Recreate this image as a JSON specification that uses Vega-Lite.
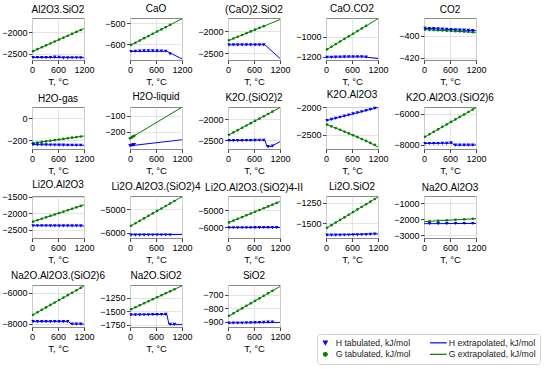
{
"$schema":"https://vega.github.io/schema/vega-lite/v6.json",
"padding":{"left":1,"top":3,"right":0,"bottom":0},
"config":{"view":{"continuousWidth":52,"continuousHeight":42,"stroke":"#8a8a8a","strokeWidth":1},
"font":"Liberation Sans",
"title":{"font":"Liberation Sans","fontSize":10,"fontWeight":"normal","color":"#000","offset":3},
"axis":{"labelFont":"Liberation Sans","labelFontSize":9,"labelColor":"#000","tickColor":"#444","tickSize":3.5,"domain":false,"gridColor":"#dddddd","gridWidth":0.8,"titleFont":"Liberation Sans","titleFontSize":9.5,"titleFontWeight":"normal","titleColor":"#000","labelPadding":1.5,"titlePadding":2,"labelOverlap":false,"labelFlush":false}},
"data":{"values":[
{"p":1,"s":"Gt","T":25,"v":-2444},{"p":1,"s":"Gt","T":125,"v":-2399},{"p":1,"s":"Gt","T":225,"v":-2355},{"p":1,"s":"Gt","T":325,"v":-2310},{"p":1,"s":"Gt","T":425,"v":-2266},{"p":1,"s":"Gt","T":525,"v":-2221},{"p":1,"s":"Gt","T":625,"v":-2176},{"p":1,"s":"Gt","T":725,"v":-2132},{"p":1,"s":"Gt","T":825,"v":-2087},{"p":1,"s":"Gt","T":925,"v":-2043},{"p":1,"s":"Gt","T":1025,"v":-1998},{"p":1,"s":"Gt","T":1125,"v":-1954},
{"p":1,"s":"Ht","T":25,"v":-2592},{"p":1,"s":"Ht","T":125,"v":-2593},{"p":1,"s":"Ht","T":225,"v":-2594},{"p":1,"s":"Ht","T":325,"v":-2594},{"p":1,"s":"Ht","T":425,"v":-2593},{"p":1,"s":"Ht","T":525,"v":-2584},{"p":1,"s":"Ht","T":625,"v":-2585},{"p":1,"s":"Ht","T":725,"v":-2600},{"p":1,"s":"Ht","T":825,"v":-2600},{"p":1,"s":"Ht","T":925,"v":-2598},{"p":1,"s":"Ht","T":1025,"v":-2597},{"p":1,"s":"Ht","T":1125,"v":-2597},
{"p":1,"s":"Ge","T":0,"v":-2455},{"p":1,"s":"Ge","T":1200,"v":-1920},{"p":1,"s":"He","T":0,"v":-2592},{"p":1,"s":"He","T":1200,"v":-2597},
{"p":2,"s":"Gt","T":25,"v":-603},{"p":2,"s":"Gt","T":125,"v":-593},{"p":2,"s":"Gt","T":225,"v":-582},{"p":2,"s":"Gt","T":325,"v":-571},{"p":2,"s":"Gt","T":425,"v":-561},{"p":2,"s":"Gt","T":525,"v":-550},{"p":2,"s":"Gt","T":625,"v":-539},{"p":2,"s":"Gt","T":725,"v":-529},{"p":2,"s":"Gt","T":825,"v":-518},{"p":2,"s":"Gt","T":925,"v":-507},
{"p":2,"s":"Ht","T":25,"v":-635},{"p":2,"s":"Ht","T":125,"v":-634},{"p":2,"s":"Ht","T":225,"v":-633},{"p":2,"s":"Ht","T":325,"v":-632},{"p":2,"s":"Ht","T":425,"v":-632},{"p":2,"s":"Ht","T":525,"v":-632},{"p":2,"s":"Ht","T":625,"v":-632},{"p":2,"s":"Ht","T":725,"v":-633},{"p":2,"s":"Ht","T":825,"v":-634},{"p":2,"s":"Ht","T":925,"v":-647},
{"p":2,"s":"Ge","T":0,"v":-606},{"p":2,"s":"Ge","T":1200,"v":-478},{"p":2,"s":"He","T":0,"v":-635},{"p":2,"s":"He","T":850,"v":-634},{"p":2,"s":"He","T":1200,"v":-671},
{"p":3,"s":"Gt","T":25,"v":-2205},{"p":3,"s":"Gt","T":125,"v":-2166},{"p":3,"s":"Gt","T":225,"v":-2127},{"p":3,"s":"Gt","T":325,"v":-2088},{"p":3,"s":"Gt","T":425,"v":-2049},{"p":3,"s":"Gt","T":525,"v":-2009},{"p":3,"s":"Gt","T":625,"v":-1970},{"p":3,"s":"Gt","T":725,"v":-1931},{"p":3,"s":"Gt","T":825,"v":-1892},
{"p":3,"s":"Ht","T":25,"v":-2308},{"p":3,"s":"Ht","T":125,"v":-2308},{"p":3,"s":"Ht","T":225,"v":-2307},{"p":3,"s":"Ht","T":325,"v":-2308},{"p":3,"s":"Ht","T":425,"v":-2308},{"p":3,"s":"Ht","T":525,"v":-2307},{"p":3,"s":"Ht","T":625,"v":-2307},{"p":3,"s":"Ht","T":725,"v":-2308},{"p":3,"s":"Ht","T":825,"v":-2307},
{"p":3,"s":"Ge","T":0,"v":-2215},{"p":3,"s":"Ge","T":1200,"v":-1745},{"p":3,"s":"He","T":0,"v":-2308},{"p":3,"s":"He","T":850,"v":-2306},{"p":3,"s":"He","T":1200,"v":-2610},
{"p":4,"s":"Gt","T":25,"v":-1128},{"p":4,"s":"Gt","T":125,"v":-1102},{"p":4,"s":"Gt","T":225,"v":-1076},{"p":4,"s":"Gt","T":325,"v":-1050},{"p":4,"s":"Gt","T":425,"v":-1024},{"p":4,"s":"Gt","T":525,"v":-998},{"p":4,"s":"Gt","T":625,"v":-972},{"p":4,"s":"Gt","T":725,"v":-946},{"p":4,"s":"Gt","T":825,"v":-920},{"p":4,"s":"Gt","T":925,"v":-894},
{"p":4,"s":"Ht","T":25,"v":-1207},{"p":4,"s":"Ht","T":125,"v":-1207},{"p":4,"s":"Ht","T":225,"v":-1206},{"p":4,"s":"Ht","T":325,"v":-1205},{"p":4,"s":"Ht","T":425,"v":-1204},{"p":4,"s":"Ht","T":525,"v":-1203},{"p":4,"s":"Ht","T":625,"v":-1203},{"p":4,"s":"Ht","T":725,"v":-1203},{"p":4,"s":"Ht","T":825,"v":-1204},{"p":4,"s":"Ht","T":925,"v":-1206},
{"p":4,"s":"Ge","T":0,"v":-1135},{"p":4,"s":"Ge","T":1200,"v":-822},{"p":4,"s":"He","T":0,"v":-1207},{"p":4,"s":"He","T":850,"v":-1203},{"p":4,"s":"He","T":1200,"v":-1220},
{"p":5,"s":"Gt","T":25,"v":-394.5},{"p":5,"s":"Gt","T":125,"v":-394.7},{"p":5,"s":"Gt","T":225,"v":-394.9},{"p":5,"s":"Gt","T":325,"v":-395.1},{"p":5,"s":"Gt","T":425,"v":-395.3},{"p":5,"s":"Gt","T":525,"v":-395.5},{"p":5,"s":"Gt","T":625,"v":-395.7},{"p":5,"s":"Gt","T":725,"v":-395.9},{"p":5,"s":"Gt","T":825,"v":-396.1},{"p":5,"s":"Gt","T":925,"v":-396.3},{"p":5,"s":"Gt","T":1025,"v":-396.5},{"p":5,"s":"Gt","T":1125,"v":-396.8},
{"p":5,"s":"Ht","T":25,"v":-393.4},{"p":5,"s":"Ht","T":125,"v":-393.5},{"p":5,"s":"Ht","T":225,"v":-393.6},{"p":5,"s":"Ht","T":325,"v":-393.8},{"p":5,"s":"Ht","T":425,"v":-394.0},{"p":5,"s":"Ht","T":525,"v":-394.2},{"p":5,"s":"Ht","T":625,"v":-394.4},{"p":5,"s":"Ht","T":725,"v":-394.6},{"p":5,"s":"Ht","T":825,"v":-394.8},{"p":5,"s":"Ht","T":925,"v":-395.0},{"p":5,"s":"Ht","T":1025,"v":-395.2},{"p":5,"s":"Ht","T":1125,"v":-395.4},
{"p":5,"s":"Ge","T":0,"v":-394.4},{"p":5,"s":"Ge","T":1200,"v":-397},{"p":5,"s":"He","T":0,"v":-393.3},{"p":5,"s":"He","T":1200,"v":-395.5},
{"p":6,"s":"Gt","T":25,"v":-228.3},{"p":6,"s":"Gt","T":125,"v":-222.7},{"p":6,"s":"Gt","T":225,"v":-217.2},{"p":6,"s":"Gt","T":325,"v":-211.6},{"p":6,"s":"Gt","T":425,"v":-206.1},{"p":6,"s":"Gt","T":525,"v":-200.5},{"p":6,"s":"Gt","T":625,"v":-195.0},{"p":6,"s":"Gt","T":725,"v":-189.4},{"p":6,"s":"Gt","T":825,"v":-183.8},{"p":6,"s":"Gt","T":925,"v":-178.3},{"p":6,"s":"Gt","T":1025,"v":-172.7},{"p":6,"s":"Gt","T":1125,"v":-167.2},
{"p":6,"s":"Ht","T":25,"v":-241.8},{"p":6,"s":"Ht","T":125,"v":-242.6},{"p":6,"s":"Ht","T":225,"v":-243.4},{"p":6,"s":"Ht","T":325,"v":-244.2},{"p":6,"s":"Ht","T":425,"v":-244.9},{"p":6,"s":"Ht","T":525,"v":-245.6},{"p":6,"s":"Ht","T":625,"v":-246.2},{"p":6,"s":"Ht","T":725,"v":-246.7},{"p":6,"s":"Ht","T":825,"v":-247.1},{"p":6,"s":"Ht","T":925,"v":-247.5},{"p":6,"s":"Ht","T":1025,"v":-247.8},{"p":6,"s":"Ht","T":1125,"v":-248.0},
{"p":6,"s":"Ge","T":0,"v":-229.7},{"p":6,"s":"Ge","T":1200,"v":-163},{"p":6,"s":"He","T":0,"v":-241.5},{"p":6,"s":"He","T":1200,"v":-248.2},
{"p":7,"s":"Gt","T":0,"v":-241},{"p":7,"s":"Gt","T":25,"v":-237},{"p":7,"s":"Gt","T":50,"v":-233},{"p":7,"s":"Gt","T":75,"v":-229},{"p":7,"s":"Gt","T":100,"v":-225},
{"p":7,"s":"Ht","T":0,"v":-287.7},{"p":7,"s":"Ht","T":25,"v":-285.8},{"p":7,"s":"Ht","T":50,"v":-283.9},{"p":7,"s":"Ht","T":75,"v":-282.0},{"p":7,"s":"Ht","T":100,"v":-280.1},
{"p":7,"s":"Ge","T":0,"v":-241},{"p":7,"s":"Ge","T":1200,"v":-45},{"p":7,"s":"He","T":0,"v":-287.7},{"p":7,"s":"He","T":1200,"v":-250},
{"p":8,"s":"Gt","T":25,"v":-2366},{"p":8,"s":"Gt","T":125,"v":-2311},{"p":8,"s":"Gt","T":225,"v":-2257},{"p":8,"s":"Gt","T":325,"v":-2202},{"p":8,"s":"Gt","T":425,"v":-2147},{"p":8,"s":"Gt","T":525,"v":-2092},{"p":8,"s":"Gt","T":625,"v":-2037},{"p":8,"s":"Gt","T":725,"v":-1983},{"p":8,"s":"Gt","T":825,"v":-1928},{"p":8,"s":"Gt","T":925,"v":-1873},{"p":8,"s":"Gt","T":1025,"v":-1818},
{"p":8,"s":"Ht","T":25,"v":-2505},{"p":8,"s":"Ht","T":125,"v":-2505},{"p":8,"s":"Ht","T":225,"v":-2506},{"p":8,"s":"Ht","T":325,"v":-2505},{"p":8,"s":"Ht","T":425,"v":-2504},{"p":8,"s":"Ht","T":525,"v":-2502},{"p":8,"s":"Ht","T":625,"v":-2500},{"p":8,"s":"Ht","T":725,"v":-2498},{"p":8,"s":"Ht","T":825,"v":-2496},{"p":8,"s":"Ht","T":925,"v":-2648},{"p":8,"s":"Ht","T":1025,"v":-2638},
{"p":8,"s":"Ge","T":0,"v":-2380},{"p":8,"s":"Ge","T":1200,"v":-1722},{"p":8,"s":"He","T":0,"v":-2505},{"p":8,"s":"He","T":850,"v":-2494},{"p":8,"s":"He","T":900,"v":-2650},{"p":8,"s":"He","T":1000,"v":-2645},{"p":8,"s":"He","T":1200,"v":-2530},
{"p":9,"s":"Gt","T":25,"v":-2314},{"p":9,"s":"Gt","T":125,"v":-2345},{"p":9,"s":"Gt","T":225,"v":-2377},{"p":9,"s":"Gt","T":325,"v":-2408},{"p":9,"s":"Gt","T":425,"v":-2441},{"p":9,"s":"Gt","T":525,"v":-2474},{"p":9,"s":"Gt","T":625,"v":-2506},{"p":9,"s":"Gt","T":725,"v":-2540},{"p":9,"s":"Gt","T":825,"v":-2575},{"p":9,"s":"Gt","T":925,"v":-2610},{"p":9,"s":"Gt","T":1025,"v":-2646},{"p":9,"s":"Gt","T":1125,"v":-2682},
{"p":9,"s":"Ht","T":25,"v":-2240},{"p":9,"s":"Ht","T":125,"v":-2220},{"p":9,"s":"Ht","T":225,"v":-2200},{"p":9,"s":"Ht","T":325,"v":-2180},{"p":9,"s":"Ht","T":425,"v":-2160},{"p":9,"s":"Ht","T":525,"v":-2140},{"p":9,"s":"Ht","T":625,"v":-2120},{"p":9,"s":"Ht","T":725,"v":-2100},{"p":9,"s":"Ht","T":825,"v":-2080},{"p":9,"s":"Ht","T":925,"v":-2060},{"p":9,"s":"Ht","T":1025,"v":-2040},{"p":9,"s":"Ht","T":1125,"v":-2020},
{"p":9,"s":"Ge","T":0,"v":-2306},{"p":9,"s":"Ge","T":300,"v":-2400},{"p":9,"s":"Ge","T":600,"v":-2498},{"p":9,"s":"Ge","T":900,"v":-2601},{"p":9,"s":"Ge","T":1200,"v":-2718},{"p":9,"s":"He","T":0,"v":-2245},{"p":9,"s":"He","T":1200,"v":-2005},
{"p":10,"s":"Gt","T":25,"v":-7490},{"p":10,"s":"Gt","T":125,"v":-7330},{"p":10,"s":"Gt","T":225,"v":-7171},{"p":10,"s":"Gt","T":325,"v":-7011},{"p":10,"s":"Gt","T":425,"v":-6852},{"p":10,"s":"Gt","T":525,"v":-6692},{"p":10,"s":"Gt","T":625,"v":-6533},{"p":10,"s":"Gt","T":725,"v":-6373},{"p":10,"s":"Gt","T":825,"v":-6213},{"p":10,"s":"Gt","T":925,"v":-6054},{"p":10,"s":"Gt","T":1025,"v":-5894},{"p":10,"s":"Gt","T":1125,"v":-5735},
{"p":10,"s":"Ht","T":25,"v":-7925},{"p":10,"s":"Ht","T":125,"v":-7924},{"p":10,"s":"Ht","T":225,"v":-7922},{"p":10,"s":"Ht","T":325,"v":-7920},{"p":10,"s":"Ht","T":425,"v":-7918},{"p":10,"s":"Ht","T":525,"v":-7915},{"p":10,"s":"Ht","T":625,"v":-7880},{"p":10,"s":"Ht","T":725,"v":-8030},{"p":10,"s":"Ht","T":825,"v":-8030},{"p":10,"s":"Ht","T":925,"v":-8028},{"p":10,"s":"Ht","T":1025,"v":-8026},{"p":10,"s":"Ht","T":1125,"v":-8024},
{"p":10,"s":"Ge","T":0,"v":-7530},{"p":10,"s":"Ge","T":1200,"v":-5615},{"p":10,"s":"He","T":0,"v":-7925},{"p":10,"s":"He","T":650,"v":-7900},{"p":10,"s":"He","T":700,"v":-8030},{"p":10,"s":"He","T":1200,"v":-8022},
{"p":11,"s":"Gt","T":25,"v":-2251},{"p":11,"s":"Gt","T":125,"v":-2208},{"p":11,"s":"Gt","T":225,"v":-2164},{"p":11,"s":"Gt","T":325,"v":-2121},{"p":11,"s":"Gt","T":425,"v":-2077},{"p":11,"s":"Gt","T":525,"v":-2034},{"p":11,"s":"Gt","T":625,"v":-1990},{"p":11,"s":"Gt","T":725,"v":-1947},{"p":11,"s":"Gt","T":825,"v":-1903},{"p":11,"s":"Gt","T":925,"v":-1860},{"p":11,"s":"Gt","T":1025,"v":-1816},{"p":11,"s":"Gt","T":1125,"v":-1773},
{"p":11,"s":"Ht","T":25,"v":-2376},{"p":11,"s":"Ht","T":125,"v":-2377},{"p":11,"s":"Ht","T":225,"v":-2378},{"p":11,"s":"Ht","T":325,"v":-2378},{"p":11,"s":"Ht","T":425,"v":-2379},{"p":11,"s":"Ht","T":525,"v":-2379},{"p":11,"s":"Ht","T":625,"v":-2379},{"p":11,"s":"Ht","T":725,"v":-2380},{"p":11,"s":"Ht","T":825,"v":-2380},{"p":11,"s":"Ht","T":925,"v":-2380},{"p":11,"s":"Ht","T":1025,"v":-2381},{"p":11,"s":"Ht","T":1125,"v":-2381},
{"p":11,"s":"Ge","T":0,"v":-2262},{"p":11,"s":"Ge","T":1200,"v":-1740},{"p":11,"s":"He","T":0,"v":-2376},{"p":11,"s":"He","T":1200,"v":-2381},
{"p":12,"s":"Gt","T":25,"v":-5704},{"p":12,"s":"Gt","T":125,"v":-5598},{"p":12,"s":"Gt","T":225,"v":-5492},{"p":12,"s":"Gt","T":325,"v":-5386},{"p":12,"s":"Gt","T":425,"v":-5280},{"p":12,"s":"Gt","T":525,"v":-5174},{"p":12,"s":"Gt","T":625,"v":-5069},{"p":12,"s":"Gt","T":725,"v":-4963},{"p":12,"s":"Gt","T":825,"v":-4857},{"p":12,"s":"Gt","T":925,"v":-4751},{"p":12,"s":"Gt","T":1025,"v":-4645},
{"p":12,"s":"Ht","T":25,"v":-6105},{"p":12,"s":"Ht","T":125,"v":-6105},{"p":12,"s":"Ht","T":225,"v":-6104},{"p":12,"s":"Ht","T":325,"v":-6104},{"p":12,"s":"Ht","T":425,"v":-6103},{"p":12,"s":"Ht","T":525,"v":-6103},{"p":12,"s":"Ht","T":625,"v":-6102},{"p":12,"s":"Ht","T":725,"v":-6102},{"p":12,"s":"Ht","T":825,"v":-6101},{"p":12,"s":"Ht","T":925,"v":-6100},
{"p":12,"s":"Ge","T":0,"v":-5730},{"p":12,"s":"Ge","T":1200,"v":-4460},{"p":12,"s":"He","T":0,"v":-6085},{"p":12,"s":"He","T":1200,"v":-6080},
{"p":13,"s":"Gt","T":25,"v":-5714},{"p":13,"s":"Gt","T":125,"v":-5609},{"p":13,"s":"Gt","T":225,"v":-5504},{"p":13,"s":"Gt","T":325,"v":-5399},{"p":13,"s":"Gt","T":425,"v":-5294},{"p":13,"s":"Gt","T":525,"v":-5189},{"p":13,"s":"Gt","T":625,"v":-5084},{"p":13,"s":"Gt","T":725,"v":-4979},{"p":13,"s":"Gt","T":825,"v":-4874},{"p":13,"s":"Gt","T":925,"v":-4769},{"p":13,"s":"Gt","T":1025,"v":-4664},{"p":13,"s":"Gt","T":1125,"v":-4559},
{"p":13,"s":"Ht","T":25,"v":-6030},{"p":13,"s":"Ht","T":125,"v":-6032},{"p":13,"s":"Ht","T":225,"v":-6031},{"p":13,"s":"Ht","T":325,"v":-6030},{"p":13,"s":"Ht","T":425,"v":-6030},{"p":13,"s":"Ht","T":525,"v":-6029},{"p":13,"s":"Ht","T":625,"v":-6028},{"p":13,"s":"Ht","T":725,"v":-6027},{"p":13,"s":"Ht","T":825,"v":-6026},{"p":13,"s":"Ht","T":925,"v":-6025},{"p":13,"s":"Ht","T":1025,"v":-6024},{"p":13,"s":"Ht","T":1125,"v":-6022},
{"p":13,"s":"Ge","T":0,"v":-5740},{"p":13,"s":"Ge","T":1200,"v":-4480},{"p":13,"s":"He","T":0,"v":-6028},{"p":13,"s":"He","T":1200,"v":-6020},
{"p":14,"s":"Gt","T":25,"v":-1557},{"p":14,"s":"Gt","T":125,"v":-1525},{"p":14,"s":"Gt","T":225,"v":-1493},{"p":14,"s":"Gt","T":325,"v":-1461},{"p":14,"s":"Gt","T":425,"v":-1429},{"p":14,"s":"Gt","T":525,"v":-1397},{"p":14,"s":"Gt","T":625,"v":-1365},{"p":14,"s":"Gt","T":725,"v":-1332},{"p":14,"s":"Gt","T":825,"v":-1300},{"p":14,"s":"Gt","T":925,"v":-1268},{"p":14,"s":"Gt","T":1025,"v":-1236},{"p":14,"s":"Gt","T":1125,"v":-1204},
{"p":14,"s":"Ht","T":25,"v":-1648},{"p":14,"s":"Ht","T":125,"v":-1648},{"p":14,"s":"Ht","T":225,"v":-1647},{"p":14,"s":"Ht","T":325,"v":-1647},{"p":14,"s":"Ht","T":425,"v":-1646},{"p":14,"s":"Ht","T":525,"v":-1646},{"p":14,"s":"Ht","T":625,"v":-1645},{"p":14,"s":"Ht","T":725,"v":-1644},{"p":14,"s":"Ht","T":825,"v":-1643},{"p":14,"s":"Ht","T":925,"v":-1641},{"p":14,"s":"Ht","T":1025,"v":-1639},{"p":14,"s":"Ht","T":1125,"v":-1635},
{"p":14,"s":"Ge","T":0,"v":-1565},{"p":14,"s":"Ge","T":1200,"v":-1180},{"p":14,"s":"He","T":0,"v":-1648},{"p":14,"s":"He","T":1200,"v":-1633},
{"p":15,"s":"Gt","T":127,"v":-2125},{"p":15,"s":"Gt","T":327,"v":-2093},{"p":15,"s":"Gt","T":527,"v":-2062},{"p":15,"s":"Gt","T":727,"v":-2030},{"p":15,"s":"Gt","T":927,"v":-1999},{"p":15,"s":"Gt","T":1127,"v":-1967},
{"p":15,"s":"Ht","T":127,"v":-2270},{"p":15,"s":"Ht","T":327,"v":-2268},{"p":15,"s":"Ht","T":527,"v":-2266},{"p":15,"s":"Ht","T":727,"v":-2264},{"p":15,"s":"Ht","T":927,"v":-2262},{"p":15,"s":"Ht","T":1127,"v":-2260},
{"p":15,"s":"Ge","T":0,"v":-2145},{"p":15,"s":"Ge","T":1200,"v":-1955},{"p":15,"s":"He","T":0,"v":-2272},{"p":15,"s":"He","T":1200,"v":-2258},
{"p":16,"s":"Gt","T":25,"v":-7410},{"p":16,"s":"Gt","T":125,"v":-7252},{"p":16,"s":"Gt","T":225,"v":-7094},{"p":16,"s":"Gt","T":325,"v":-6935},{"p":16,"s":"Gt","T":425,"v":-6777},{"p":16,"s":"Gt","T":525,"v":-6619},{"p":16,"s":"Gt","T":625,"v":-6460},{"p":16,"s":"Gt","T":725,"v":-6302},{"p":16,"s":"Gt","T":825,"v":-6144},{"p":16,"s":"Gt","T":925,"v":-5985},{"p":16,"s":"Gt","T":1025,"v":-5827},{"p":16,"s":"Gt","T":1125,"v":-5669},
{"p":16,"s":"Ht","T":25,"v":-7860},{"p":16,"s":"Ht","T":125,"v":-7860},{"p":16,"s":"Ht","T":225,"v":-7860},{"p":16,"s":"Ht","T":325,"v":-7860},{"p":16,"s":"Ht","T":425,"v":-7860},{"p":16,"s":"Ht","T":525,"v":-7860},{"p":16,"s":"Ht","T":625,"v":-7860},{"p":16,"s":"Ht","T":725,"v":-7860},{"p":16,"s":"Ht","T":825,"v":-7860},{"p":16,"s":"Ht","T":925,"v":-8020},{"p":16,"s":"Ht","T":1025,"v":-8020},{"p":16,"s":"Ht","T":1125,"v":-8020},
{"p":16,"s":"Ge","T":0,"v":-7450},{"p":16,"s":"Ge","T":1200,"v":-5550},{"p":16,"s":"He","T":0,"v":-7860},{"p":16,"s":"He","T":850,"v":-7860},{"p":16,"s":"He","T":900,"v":-8020},{"p":16,"s":"He","T":1200,"v":-8020},
{"p":17,"s":"Gt","T":25,"v":-1461},{"p":17,"s":"Gt","T":125,"v":-1424},{"p":17,"s":"Gt","T":225,"v":-1388},{"p":17,"s":"Gt","T":325,"v":-1351},{"p":17,"s":"Gt","T":425,"v":-1314},{"p":17,"s":"Gt","T":525,"v":-1278},{"p":17,"s":"Gt","T":625,"v":-1241},{"p":17,"s":"Gt","T":725,"v":-1204},{"p":17,"s":"Gt","T":825,"v":-1167},{"p":17,"s":"Gt","T":925,"v":-1131},{"p":17,"s":"Gt","T":1025,"v":-1094},
{"p":17,"s":"Ht","T":25,"v":-1565},{"p":17,"s":"Ht","T":125,"v":-1565},{"p":17,"s":"Ht","T":225,"v":-1564},{"p":17,"s":"Ht","T":325,"v":-1563},{"p":17,"s":"Ht","T":425,"v":-1562},{"p":17,"s":"Ht","T":525,"v":-1561},{"p":17,"s":"Ht","T":625,"v":-1560},{"p":17,"s":"Ht","T":725,"v":-1558},{"p":17,"s":"Ht","T":825,"v":-1556},{"p":17,"s":"Ht","T":925,"v":-1740},{"p":17,"s":"Ht","T":1025,"v":-1740},
{"p":17,"s":"Ge","T":0,"v":-1470},{"p":17,"s":"Ge","T":1200,"v":-1030},{"p":17,"s":"He","T":0,"v":-1565},{"p":17,"s":"He","T":850,"v":-1555},{"p":17,"s":"He","T":900,"v":-1740},{"p":17,"s":"He","T":1200,"v":-1740},
{"p":18,"s":"Gt","T":25,"v":-857},{"p":18,"s":"Gt","T":125,"v":-839},{"p":18,"s":"Gt","T":225,"v":-820},{"p":18,"s":"Gt","T":325,"v":-802},{"p":18,"s":"Gt","T":425,"v":-783},{"p":18,"s":"Gt","T":525,"v":-765},{"p":18,"s":"Gt","T":625,"v":-746},{"p":18,"s":"Gt","T":725,"v":-728},{"p":18,"s":"Gt","T":825,"v":-709},{"p":18,"s":"Gt","T":925,"v":-691},{"p":18,"s":"Gt","T":1025,"v":-672},
{"p":18,"s":"Ht","T":25,"v":-911},{"p":18,"s":"Ht","T":125,"v":-910},{"p":18,"s":"Ht","T":225,"v":-910},{"p":18,"s":"Ht","T":325,"v":-910},{"p":18,"s":"Ht","T":425,"v":-909},{"p":18,"s":"Ht","T":525,"v":-909},{"p":18,"s":"Ht","T":625,"v":-908},{"p":18,"s":"Ht","T":725,"v":-907},{"p":18,"s":"Ht","T":825,"v":-906},{"p":18,"s":"Ht","T":925,"v":-904},{"p":18,"s":"Ht","T":1025,"v":-903},
{"p":18,"s":"Ge","T":0,"v":-862},{"p":18,"s":"Ge","T":1200,"v":-640},{"p":18,"s":"He","T":0,"v":-911},{"p":18,"s":"He","T":1200,"v":-906}
]},
"columns":5,
"spacing":{"row":47,"column":46},
"bounds":"flush",
"resolve":{"scale":{"color":"shared","shape":"shared"},"legend":{"color":"shared","shape":"shared"}},
"concat":[
{"title":"Al2O3.SiO2","transform":[{"filter":"datum.p==1"}],"encoding":{"x":{"field":"T","type":"quantitative","scale":{"domain":[0,1200],"nice":false},"axis":{"values":[0,600,1200],"format":"d","title":"T, °C"}},"y":{"field":"v","type":"quantitative","scale":{"domain":[-2650,-1675],"nice":false,"zero":false},"axis":{"values":[-2500,-2000],"format":"d","title":null}},"color":{"field":"s","type":"nominal","scale":{"domain":["Ht","Gt","He","Ge"],"range":["#0000ff","#008000","#0000ff","#008000"]},"legend":{"orient":"none","legendX":285,"legendY":316,"columns":2,"title":null,"labelExpr":"datum.value=='Ht'?'H tabulated, kJ/mol':datum.value=='He'?'H extrapolated, kJ/mol':datum.value=='Gt'?'G tabulated, kJ/mol':'G extrapolated, kJ/mol'","labelFont":"Liberation Sans","labelFontSize":8.7,"labelColor":"#222","padding":4,"strokeColor":"#d0d0d0","fillColor":"#ffffff","cornerRadius":3,"columnPadding":16,"rowPadding":2,"symbolSize":150,"labelOffset":6,"encode":{"symbols":{"update":{"shape":{"scale":"shape","field":"value"},"size":{"signal":"datum.value=='He'||datum.value=='Ge'?280:14"},"fill":{"scale":"color","field":"value"},"stroke":{"scale":"color","field":"value"},"strokeWidth":{"value":1.2},"opacity":{"value":1}}}}}},"shape":{"field":"s","type":"nominal","scale":{"domain":["Ht","Gt","He","Ge"],"range":["triangle-down","circle","stroke","stroke"]},"legend":null}},"layer":[{"transform":[{"filter":"datum.s=='He'||datum.s=='Ge'"}],"mark":{"type":"line","strokeWidth":1}},{"transform":[{"filter":"datum.s=='Ht'||datum.s=='Gt'"}],"mark":{"type":"point","filled":true,"opacity":1},"encoding":{"size":{"condition":{"test":"datum.s=='Ht'","value":13},"value":7}}}]},
{"title":"CaO","transform":[{"filter":"datum.p==2"}],"encoding":{"x":{"field":"T","type":"quantitative","scale":{"domain":[0,1200],"nice":false},"axis":{"values":[0,600,1200],"format":"d","title":"T, °C"}},"y":{"field":"v","type":"quantitative","scale":{"domain":[-676,-474],"nice":false,"zero":false},"axis":{"values":[-600,-500],"format":"d","title":null}},"color":{"field":"s","type":"nominal","scale":{"domain":["Ht","Gt","He","Ge"],"range":["#0000ff","#008000","#0000ff","#008000"]}},"shape":{"field":"s","type":"nominal","scale":{"domain":["Ht","Gt","He","Ge"],"range":["triangle-down","circle","stroke","stroke"]},"legend":null}},"layer":[{"transform":[{"filter":"datum.s=='He'||datum.s=='Ge'"}],"mark":{"type":"line","strokeWidth":1}},{"transform":[{"filter":"datum.s=='Ht'||datum.s=='Gt'"}],"mark":{"type":"point","filled":true,"opacity":1},"encoding":{"size":{"condition":{"test":"datum.s=='Ht'","value":13},"value":7}}}]},
{"title":"(CaO)2.SiO2","transform":[{"filter":"datum.p==3"}],"encoding":{"x":{"field":"T","type":"quantitative","scale":{"domain":[0,1200],"nice":false},"axis":{"values":[0,600,1200],"format":"d","title":"T, °C"}},"y":{"field":"v","type":"quantitative","scale":{"domain":[-2645,-1710],"nice":false,"zero":false},"axis":{"values":[-2500,-2000],"format":"d","title":null}},"color":{"field":"s","type":"nominal","scale":{"domain":["Ht","Gt","He","Ge"],"range":["#0000ff","#008000","#0000ff","#008000"]}},"shape":{"field":"s","type":"nominal","scale":{"domain":["Ht","Gt","He","Ge"],"range":["triangle-down","circle","stroke","stroke"]},"legend":null}},"layer":[{"transform":[{"filter":"datum.s=='He'||datum.s=='Ge'"}],"mark":{"type":"line","strokeWidth":1}},{"transform":[{"filter":"datum.s=='Ht'||datum.s=='Gt'"}],"mark":{"type":"point","filled":true,"opacity":1},"encoding":{"size":{"condition":{"test":"datum.s=='Ht'","value":13},"value":7}}}]},
{"title":"CaO.CO2","transform":[{"filter":"datum.p==4"}],"encoding":{"x":{"field":"T","type":"quantitative","scale":{"domain":[0,1200],"nice":false},"axis":{"values":[0,600,1200],"format":"d","title":"T, °C"}},"y":{"field":"v","type":"quantitative","scale":{"domain":[-1235,-815],"nice":false,"zero":false},"axis":{"values":[-1200,-1000],"format":"d","title":null}},"color":{"field":"s","type":"nominal","scale":{"domain":["Ht","Gt","He","Ge"],"range":["#0000ff","#008000","#0000ff","#008000"]}},"shape":{"field":"s","type":"nominal","scale":{"domain":["Ht","Gt","He","Ge"],"range":["triangle-down","circle","stroke","stroke"]},"legend":null}},"layer":[{"transform":[{"filter":"datum.s=='He'||datum.s=='Ge'"}],"mark":{"type":"line","strokeWidth":1}},{"transform":[{"filter":"datum.s=='Ht'||datum.s=='Gt'"}],"mark":{"type":"point","filled":true,"opacity":1},"encoding":{"size":{"condition":{"test":"datum.s=='Ht'","value":13},"value":7}}}]},
{"title":"CO2","transform":[{"filter":"datum.p==5"}],"encoding":{"x":{"field":"T","type":"quantitative","scale":{"domain":[0,1200],"nice":false},"axis":{"values":[0,600,1200],"format":"d","title":"T, °C"}},"y":{"field":"v","type":"quantitative","scale":{"domain":[-422,-384],"nice":false,"zero":false},"axis":{"values":[-420,-400],"format":"d","title":null}},"color":{"field":"s","type":"nominal","scale":{"domain":["Ht","Gt","He","Ge"],"range":["#0000ff","#008000","#0000ff","#008000"]}},"shape":{"field":"s","type":"nominal","scale":{"domain":["Ht","Gt","He","Ge"],"range":["triangle-down","circle","stroke","stroke"]},"legend":null}},"layer":[{"transform":[{"filter":"datum.s=='He'||datum.s=='Ge'"}],"mark":{"type":"line","strokeWidth":1}},{"transform":[{"filter":"datum.s=='Ht'||datum.s=='Gt'"}],"mark":{"type":"point","filled":true,"opacity":1},"encoding":{"size":{"condition":{"test":"datum.s=='Ht'","value":13},"value":7}}}]},
{"title":"H2O-gas","transform":[{"filter":"datum.p==6"}],"encoding":{"x":{"field":"T","type":"quantitative","scale":{"domain":[0,1200],"nice":false},"axis":{"values":[0,600,1200],"format":"d","title":"T, °C"}},"y":{"field":"v","type":"quantitative","scale":{"domain":[-282,103],"nice":false,"zero":false},"axis":{"values":[-200,0],"format":"d","title":null}},"color":{"field":"s","type":"nominal","scale":{"domain":["Ht","Gt","He","Ge"],"range":["#0000ff","#008000","#0000ff","#008000"]}},"shape":{"field":"s","type":"nominal","scale":{"domain":["Ht","Gt","He","Ge"],"range":["triangle-down","circle","stroke","stroke"]},"legend":null}},"layer":[{"transform":[{"filter":"datum.s=='He'||datum.s=='Ge'"}],"mark":{"type":"line","strokeWidth":1}},{"transform":[{"filter":"datum.s=='Ht'||datum.s=='Gt'"}],"mark":{"type":"point","filled":true,"opacity":1},"encoding":{"size":{"condition":{"test":"datum.s=='Ht'","value":13},"value":7}}}]},
{"title":"H2O-liquid","transform":[{"filter":"datum.p==7"}],"encoding":{"x":{"field":"T","type":"quantitative","scale":{"domain":[0,1200],"nice":false},"axis":{"values":[0,600,1200],"format":"d","title":"T, °C"}},"y":{"field":"v","type":"quantitative","scale":{"domain":[-308,-44],"nice":false,"zero":false},"axis":{"values":[-200,-100],"format":"d","title":null}},"color":{"field":"s","type":"nominal","scale":{"domain":["Ht","Gt","He","Ge"],"range":["#0000ff","#008000","#0000ff","#008000"]}},"shape":{"field":"s","type":"nominal","scale":{"domain":["Ht","Gt","He","Ge"],"range":["triangle-down","circle","stroke","stroke"]},"legend":null}},"layer":[{"transform":[{"filter":"datum.s=='He'||datum.s=='Ge'"}],"mark":{"type":"line","strokeWidth":1}},{"transform":[{"filter":"datum.s=='Ht'||datum.s=='Gt'"}],"mark":{"type":"point","filled":true,"opacity":1},"encoding":{"size":{"condition":{"test":"datum.s=='Ht'","value":13},"value":7}}}]},
{"title":"K2O.(SiO2)2","transform":[{"filter":"datum.p==8"}],"encoding":{"x":{"field":"T","type":"quantitative","scale":{"domain":[0,1200],"nice":false},"axis":{"values":[0,600,1200],"format":"d","title":"T, °C"}},"y":{"field":"v","type":"quantitative","scale":{"domain":[-2705,-1708],"nice":false,"zero":false},"axis":{"values":[-2500,-2000],"format":"d","title":null}},"color":{"field":"s","type":"nominal","scale":{"domain":["Ht","Gt","He","Ge"],"range":["#0000ff","#008000","#0000ff","#008000"]}},"shape":{"field":"s","type":"nominal","scale":{"domain":["Ht","Gt","He","Ge"],"range":["triangle-down","circle","stroke","stroke"]},"legend":null}},"layer":[{"transform":[{"filter":"datum.s=='He'||datum.s=='Ge'"}],"mark":{"type":"line","strokeWidth":1}},{"transform":[{"filter":"datum.s=='Ht'||datum.s=='Gt'"}],"mark":{"type":"point","filled":true,"opacity":1},"encoding":{"size":{"condition":{"test":"datum.s=='Ht'","value":13},"value":7}}}]},
{"title":"K2O.Al2O3","transform":[{"filter":"datum.p==9"}],"encoding":{"x":{"field":"T","type":"quantitative","scale":{"domain":[0,1200],"nice":false},"axis":{"values":[0,600,1200],"format":"d","title":"T, °C"}},"y":{"field":"v","type":"quantitative","scale":{"domain":[-2756,-1995],"nice":false,"zero":false},"axis":{"values":[-2500,-2000],"format":"d","title":null}},"color":{"field":"s","type":"nominal","scale":{"domain":["Ht","Gt","He","Ge"],"range":["#0000ff","#008000","#0000ff","#008000"]}},"shape":{"field":"s","type":"nominal","scale":{"domain":["Ht","Gt","He","Ge"],"range":["triangle-down","circle","stroke","stroke"]},"legend":null}},"layer":[{"transform":[{"filter":"datum.s=='He'||datum.s=='Ge'"}],"mark":{"type":"line","strokeWidth":1}},{"transform":[{"filter":"datum.s=='Ht'||datum.s=='Gt'"}],"mark":{"type":"point","filled":true,"opacity":1},"encoding":{"size":{"condition":{"test":"datum.s=='Ht'","value":13},"value":7}}}]},
{"title":"K2O.Al2O3.(SiO2)6","transform":[{"filter":"datum.p==10"}],"encoding":{"x":{"field":"T","type":"quantitative","scale":{"domain":[0,1200],"nice":false},"axis":{"values":[0,600,1200],"format":"d","title":"T, °C"}},"y":{"field":"v","type":"quantitative","scale":{"domain":[-8277,-5574],"nice":false,"zero":false},"axis":{"values":[-8000,-6000],"format":"d","title":null}},"color":{"field":"s","type":"nominal","scale":{"domain":["Ht","Gt","He","Ge"],"range":["#0000ff","#008000","#0000ff","#008000"]}},"shape":{"field":"s","type":"nominal","scale":{"domain":["Ht","Gt","He","Ge"],"range":["triangle-down","circle","stroke","stroke"]},"legend":null}},"layer":[{"transform":[{"filter":"datum.s=='He'||datum.s=='Ge'"}],"mark":{"type":"line","strokeWidth":1}},{"transform":[{"filter":"datum.s=='Ht'||datum.s=='Gt'"}],"mark":{"type":"point","filled":true,"opacity":1},"encoding":{"size":{"condition":{"test":"datum.s=='Ht'","value":13},"value":7}}}]},
{"title":"Li2O.Al2O3","transform":[{"filter":"datum.p==11"}],"encoding":{"x":{"field":"T","type":"quantitative","scale":{"domain":[0,1200],"nice":false},"axis":{"values":[0,600,1200],"format":"d","title":"T, °C"}},"y":{"field":"v","type":"quantitative","scale":{"domain":[-2750,-1470],"nice":false,"zero":false},"axis":{"values":[-2500,-2000,-1500],"format":"d","title":null}},"color":{"field":"s","type":"nominal","scale":{"domain":["Ht","Gt","He","Ge"],"range":["#0000ff","#008000","#0000ff","#008000"]}},"shape":{"field":"s","type":"nominal","scale":{"domain":["Ht","Gt","He","Ge"],"range":["triangle-down","circle","stroke","stroke"]},"legend":null}},"layer":[{"transform":[{"filter":"datum.s=='He'||datum.s=='Ge'"}],"mark":{"type":"line","strokeWidth":1}},{"transform":[{"filter":"datum.s=='Ht'||datum.s=='Gt'"}],"mark":{"type":"point","filled":true,"opacity":1},"encoding":{"size":{"condition":{"test":"datum.s=='Ht'","value":13},"value":7}}}]},
{"title":"Li2O.Al2O3.(SiO2)4","transform":[{"filter":"datum.p==12"}],"encoding":{"x":{"field":"T","type":"quantitative","scale":{"domain":[0,1200],"nice":false},"axis":{"values":[0,600,1200],"format":"d","title":"T, °C"}},"y":{"field":"v","type":"quantitative","scale":{"domain":[-6229,-4429],"nice":false,"zero":false},"axis":{"values":[-6000,-5000],"format":"d","title":null}},"color":{"field":"s","type":"nominal","scale":{"domain":["Ht","Gt","He","Ge"],"range":["#0000ff","#008000","#0000ff","#008000"]}},"shape":{"field":"s","type":"nominal","scale":{"domain":["Ht","Gt","He","Ge"],"range":["triangle-down","circle","stroke","stroke"]},"legend":null}},"layer":[{"transform":[{"filter":"datum.s=='He'||datum.s=='Ge'"}],"mark":{"type":"line","strokeWidth":1}},{"transform":[{"filter":"datum.s=='Ht'||datum.s=='Gt'"}],"mark":{"type":"point","filled":true,"opacity":1},"encoding":{"size":{"condition":{"test":"datum.s=='Ht'","value":13},"value":7}}}]},
{"title":"Li2O.Al2O3.(SiO2)4-II","transform":[{"filter":"datum.p==13"}],"encoding":{"x":{"field":"T","type":"quantitative","scale":{"domain":[0,1200],"nice":false},"axis":{"values":[0,600,1200],"format":"d","title":"T, °C"}},"y":{"field":"v","type":"quantitative","scale":{"domain":[-6640,-4150],"nice":false,"zero":false},"axis":{"values":[-6000,-5000],"format":"d","title":null}},"color":{"field":"s","type":"nominal","scale":{"domain":["Ht","Gt","He","Ge"],"range":["#0000ff","#008000","#0000ff","#008000"]}},"shape":{"field":"s","type":"nominal","scale":{"domain":["Ht","Gt","He","Ge"],"range":["triangle-down","circle","stroke","stroke"]},"legend":null}},"layer":[{"transform":[{"filter":"datum.s=='He'||datum.s=='Ge'"}],"mark":{"type":"line","strokeWidth":1}},{"transform":[{"filter":"datum.s=='Ht'||datum.s=='Gt'"}],"mark":{"type":"point","filled":true,"opacity":1},"encoding":{"size":{"condition":{"test":"datum.s=='Ht'","value":13},"value":7}}}]},
{"title":"Li2O.SiO2","transform":[{"filter":"datum.p==14"}],"encoding":{"x":{"field":"T","type":"quantitative","scale":{"domain":[0,1200],"nice":false},"axis":{"values":[0,600,1200],"format":"d","title":"T, °C"}},"y":{"field":"v","type":"quantitative","scale":{"domain":[-1683,-1167],"nice":false,"zero":false},"axis":{"values":[-1500,-1250],"format":"d","title":null}},"color":{"field":"s","type":"nominal","scale":{"domain":["Ht","Gt","He","Ge"],"range":["#0000ff","#008000","#0000ff","#008000"]}},"shape":{"field":"s","type":"nominal","scale":{"domain":["Ht","Gt","He","Ge"],"range":["triangle-down","circle","stroke","stroke"]},"legend":null}},"layer":[{"transform":[{"filter":"datum.s=='He'||datum.s=='Ge'"}],"mark":{"type":"line","strokeWidth":1}},{"transform":[{"filter":"datum.s=='Ht'||datum.s=='Gt'"}],"mark":{"type":"point","filled":true,"opacity":1},"encoding":{"size":{"condition":{"test":"datum.s=='Ht'","value":13},"value":7}}}]},
{"title":"Na2O.Al2O3","transform":[{"filter":"datum.p==15"}],"encoding":{"x":{"field":"T","type":"quantitative","scale":{"domain":[0,1200],"nice":false},"axis":{"values":[0,600,1200],"format":"d","title":"T, °C"}},"y":{"field":"v","type":"quantitative","scale":{"domain":[-3167,-542],"nice":false,"zero":false},"axis":{"values":[-3000,-2000,-1000],"format":"d","title":null}},"color":{"field":"s","type":"nominal","scale":{"domain":["Ht","Gt","He","Ge"],"range":["#0000ff","#008000","#0000ff","#008000"]}},"shape":{"field":"s","type":"nominal","scale":{"domain":["Ht","Gt","He","Ge"],"range":["triangle-down","circle","stroke","stroke"]},"legend":null}},"layer":[{"transform":[{"filter":"datum.s=='He'||datum.s=='Ge'"}],"mark":{"type":"line","strokeWidth":1}},{"transform":[{"filter":"datum.s=='Ht'||datum.s=='Gt'"}],"mark":{"type":"point","filled":true,"opacity":1},"encoding":{"size":{"condition":{"test":"datum.s=='Ht'","value":13},"value":7}}}]},
{"title":"Na2O.Al2O3.(SiO2)6","transform":[{"filter":"datum.p==16"}],"encoding":{"x":{"field":"T","type":"quantitative","scale":{"domain":[0,1200],"nice":false},"axis":{"values":[0,600,1200],"format":"d","title":"T, °C"}},"y":{"field":"v","type":"quantitative","scale":{"domain":[-8206,-5485],"nice":false,"zero":false},"axis":{"values":[-8000,-6000],"format":"d","title":null}},"color":{"field":"s","type":"nominal","scale":{"domain":["Ht","Gt","He","Ge"],"range":["#0000ff","#008000","#0000ff","#008000"]}},"shape":{"field":"s","type":"nominal","scale":{"domain":["Ht","Gt","He","Ge"],"range":["triangle-down","circle","stroke","stroke"]},"legend":null}},"layer":[{"transform":[{"filter":"datum.s=='He'||datum.s=='Ge'"}],"mark":{"type":"line","strokeWidth":1}},{"transform":[{"filter":"datum.s=='Ht'||datum.s=='Gt'"}],"mark":{"type":"point","filled":true,"opacity":1},"encoding":{"size":{"condition":{"test":"datum.s=='Ht'","value":13},"value":7}}}]},
{"title":"Na2O.SiO2","transform":[{"filter":"datum.p==17"}],"encoding":{"x":{"field":"T","type":"quantitative","scale":{"domain":[0,1200],"nice":false},"axis":{"values":[0,600,1200],"format":"d","title":"T, °C"}},"y":{"field":"v","type":"quantitative","scale":{"domain":[-1788,-1015],"nice":false,"zero":false},"axis":{"values":[-1750,-1500,-1250],"format":"d","title":null}},"color":{"field":"s","type":"nominal","scale":{"domain":["Ht","Gt","He","Ge"],"range":["#0000ff","#008000","#0000ff","#008000"]}},"shape":{"field":"s","type":"nominal","scale":{"domain":["Ht","Gt","He","Ge"],"range":["triangle-down","circle","stroke","stroke"]},"legend":null}},"layer":[{"transform":[{"filter":"datum.s=='He'||datum.s=='Ge'"}],"mark":{"type":"line","strokeWidth":1}},{"transform":[{"filter":"datum.s=='Ht'||datum.s=='Gt'"}],"mark":{"type":"point","filled":true,"opacity":1},"encoding":{"size":{"condition":{"test":"datum.s=='Ht'","value":13},"value":7}}}]},
{"title":"SiO2","transform":[{"filter":"datum.p==18"}],"encoding":{"x":{"field":"T","type":"quantitative","scale":{"domain":[0,1200],"nice":false},"axis":{"values":[0,600,1200],"format":"d","title":"T, °C"}},"y":{"field":"v","type":"quantitative","scale":{"domain":[-940,-629],"nice":false,"zero":false},"axis":{"values":[-900,-800,-700],"format":"d","title":null}},"color":{"field":"s","type":"nominal","scale":{"domain":["Ht","Gt","He","Ge"],"range":["#0000ff","#008000","#0000ff","#008000"]}},"shape":{"field":"s","type":"nominal","scale":{"domain":["Ht","Gt","He","Ge"],"range":["triangle-down","circle","stroke","stroke"]},"legend":null}},"layer":[{"transform":[{"filter":"datum.s=='He'||datum.s=='Ge'"}],"mark":{"type":"line","strokeWidth":1}},{"transform":[{"filter":"datum.s=='Ht'||datum.s=='Gt'"}],"mark":{"type":"point","filled":true,"opacity":1},"encoding":{"size":{"condition":{"test":"datum.s=='Ht'","value":13},"value":7}}}]}
]
}
